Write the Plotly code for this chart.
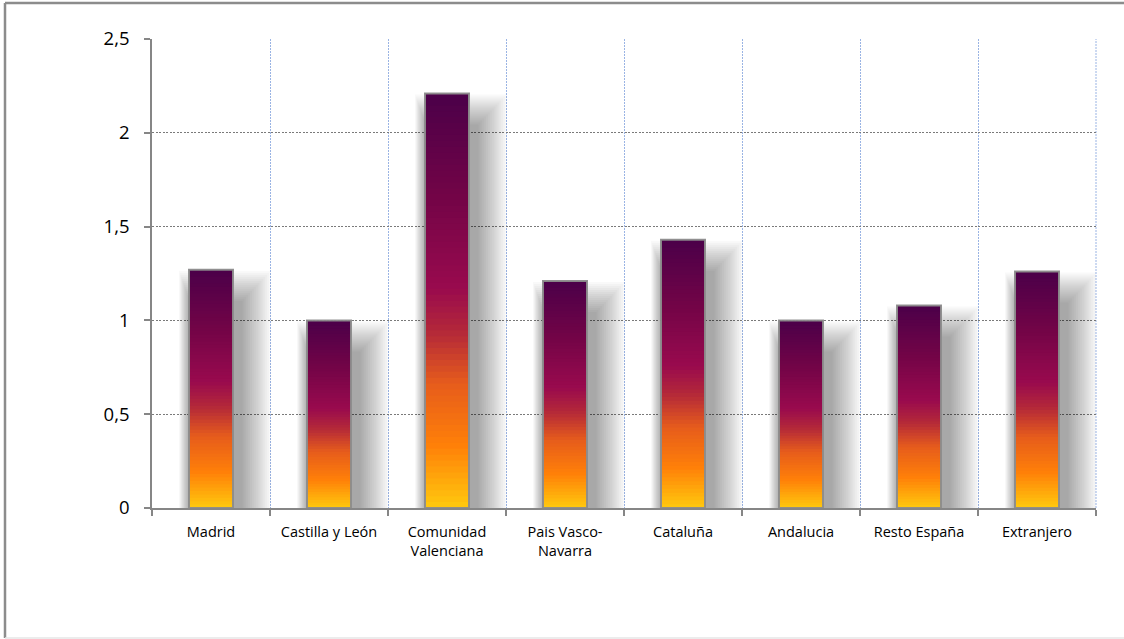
import plotly.graph_objects as go

categories = ["Madrid", "Castilla y León", "Comunidad<br>Valenciana", "Pais Vasco-<br>Navarra",
              "Cataluña", "Andalucia", "Resto España", "Extranjero"]
values = [1.27, 1.0, 2.21, 1.21, 1.43, 1.0, 1.08, 1.26]
y_ticks = [0, 0.5, 1, 1.5, 2, 2.5]

# gradient stops (fraction of bar height from bottom)
stops = [(0.0, (255, 201, 14)), (0.15, (255, 128, 8)), (0.30, (230, 92, 28)),
         (0.42, (181, 42, 56)), (0.53, (153, 10, 78)), (0.75, (115, 4, 71)),
         (1.0, (75, 0, 73))]


def grad(t):
    for (t0, c0), (t1, c1) in zip(stops[:-1], stops[1:]):
        if t <= t1:
            f = (t - t0) / (t1 - t0)
            return "rgb(%d,%d,%d)" % tuple(round(a + (b - a) * f) for a, b in zip(c0, c1))
    return "rgb(%d,%d,%d)" % stops[-1][1]


W, H = 1124, 639
L, R, T, B = 152, 28, 39, 131
plot_w = W - L - R
plot_h = H - T - B
cat_px = plot_w / len(categories)
px = 1.0 / cat_px            # one pixel in category units
py = 2.5 / plot_h            # one pixel in value units
bar_w = 44 * px
bar_off = -bar_w / 2
bar_right = bar_off + bar_w

fig = go.Figure()

# soft drop shadow: nested translucent rectangles (outer -> inner)
K = 16
for k in range(K):
    left = bar_off - (10 - 0.7 * k) * px
    right = bar_right + (38 - 1.9 * k) * px
    top_shift = -(1.0 + 2.0 * k) * py
    fig.add_trace(go.Bar(
        x=categories, y=[v + top_shift for v in values], base=0,
        width=right - left, offset=left,
        marker=dict(color="rgba(0,0,0,0.022)", line=dict(width=0)),
        hoverinfo="skip", showlegend=False))

# gradient bars as stacked slices
N = 70
for i in range(N):
    t = (i + 0.5) / N
    fig.add_trace(go.Bar(
        x=categories,
        base=[v * i / N for v in values],
        y=[min(v * 1.6 / N, v - v * i / N) for v in values],
        width=bar_w, offset=bar_off,
        marker=dict(color=grad(t), line=dict(width=0)),
        hoverinfo="skip", showlegend=False))

# outline
fig.add_trace(go.Bar(
    x=categories, y=values, base=0, width=bar_w, offset=bar_off,
    marker=dict(color="rgba(0,0,0,0)", line=dict(color="rgba(140,140,140,0.95)", width=2)),
    showlegend=False))

font_family = "Open Sans, Noto Sans, sans-serif"
grid_blue = "#9AB4E4"
fig.update_layout(
    width=W, height=H,
    margin=dict(l=L, r=R, t=T, b=B, autoexpand=False),
    barmode="overlay",
    paper_bgcolor="white", plot_bgcolor="white",
    separators=", ",
    showlegend=False,
    font=dict(family=font_family, color="black"),
    xaxis=dict(
        type="category", tickson="boundaries", ticks="outside", ticklen=6,
        tickcolor="#868686", tickwidth=1.5,
        showline=True, linecolor="#868686", linewidth=1.5,
        showgrid=True, gridcolor=grid_blue, griddash="2px,1px", gridwidth=1,
        tickfont=dict(size=14.5, family=font_family),
        ticklabelstandoff=10,
        range=[-0.5, len(categories) - 0.5],
    ),
    yaxis=dict(
        range=[0, 2.5], tickvals=y_ticks, ticks="outside", ticklen=6,
        tickcolor="#868686", tickwidth=1.5,
        showline=True, linecolor="#868686", linewidth=1.5,
        showgrid=True, gridcolor="#7A7A7A", griddash="2px,1.5px", gridwidth=1.2,
        zeroline=False,
        tickfont=dict(size=18.5, family=font_family),
        ticklabelstandoff=11,
    ),
)

# right-edge vertical gridline (boundary after last category)
fig.add_shape(type="line", xref="paper", yref="paper", x0=1, x1=1, y0=0, y1=1,
              line=dict(color=grid_blue, width=1, dash="2px,1px"), layer="below")

# chart-area border
fx = lambda p: (p - L) / plot_w
fy = lambda p: (H - B - p) / plot_h
fig.add_shape(type="line", xref="paper", yref="paper", x0=fx(5), x1=fx(5), y0=fy(638), y1=fy(3),
              line=dict(color="#8C8C8C", width=2.5))
fig.add_shape(type="line", xref="paper", yref="paper", x0=fx(5), x1=fx(1124), y0=fy(3), y1=fy(3),
              line=dict(color="#8C8C8C", width=2.5))
fig.add_shape(type="line", xref="paper", yref="paper", x0=fx(5), x1=fx(1124), y0=fy(638), y1=fy(638),
              line=dict(color="#E6E6E6", width=1.5))

fig.write_html(
    "out.html", config={"displayModeBar": False},
    post_script="document.body.style.margin='0';"
                "document.body.style.overflow='hidden';"
                "document.documentElement.style.overflow='hidden';")
